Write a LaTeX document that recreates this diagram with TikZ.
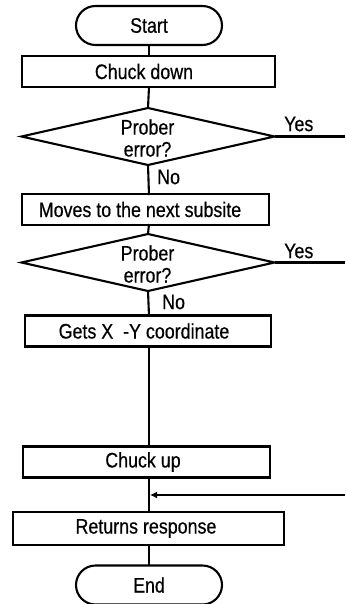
\documentclass[tikz,border=0pt]{standalone}
\usepackage{fontspec}
\setmainfont{Liberation Sans}[FakeStretch=0.85,FakeBold=0.5]
\usetikzlibrary{shapes.geometric,shapes.misc,arrows.meta}
\begin{document}
\begin{tikzpicture}[x=1pt,y=-1pt,
  every node/.style={font=\fontsize{21}{22}\selectfont},
  flow/.style={line width=2.1pt},
  term/.style={draw,line width=2.1pt,rounded rectangle,minimum width=146pt,minimum height=39pt,inner sep=0pt,outer sep=0pt},
  proc/.style={draw,line width=2.1pt,rectangle,minimum height=31pt,inner sep=0pt,outer sep=0pt},
  decision/.style={draw,line width=2.1pt,diamond,minimum width=253pt,minimum height=57pt,inner sep=0pt,outer sep=0pt},
  lbl/.style={inner sep=0pt,anchor=west}]
\useasboundingbox (0,0) rectangle (345,604);

% terminators
\node[term] (start) at (149,25.5) {Start};
\node[term] (end) at (149,585) {End};

% process boxes
\node[proc,minimum width=253pt] (chdown) at (148.5,71.5) {};
\node at (144,71.5) {Chuck down};
\node[proc,minimum width=247pt] (moves) at (145.5,209.5) {};
\node at (140,209.5) {Moves to the next subsite};
\node[proc,minimum width=246pt] (gets) at (148,331) {};
\node at (144,331) {Gets X\ \ -Y coordinate};
\node[proc,minimum width=247pt] (chup) at (146.5,462) {};
\node at (143,462) {Chuck up};
\node[proc,minimum width=271pt,minimum height=33pt] (ret) at (148.5,528.5) {};
\node at (146,528.5) {Returns response};

% decisions
\node[decision] (d1) at (148,136.5) {};
\node[align=center,inner sep=0pt] (d1t) at (147.5,138) {Prober\\error?};
\node[decision] (d2) at (148,262.5) {};
\node[align=center,inner sep=0pt] (d2t) at (147.5,264) {Prober\\error?};

% branch ends and the merge point
\coordinate (y1) at (345,136.5);
\coordinate (y2) at (345,262.5);
\coordinate (rin) at (345,495);
\coordinate (merge) at (149,495);

% main spine
\draw[flow] (start.south) -- (start.south |- chdown.north);
\draw[flow] (149,87) -- (d1.north);
\draw[flow] (d1.south) -- (149,195);
\draw[flow] (149,224) -- (d2.north);
\draw[flow] (d2.south) -- (149,316);
\draw[flow] (149,346) -- (149,447);
\draw[flow] (149,477) -- (149,512);
\draw[flow] (149,545) -- (end.north);

% yes branches and return path
\draw[flow] (d1.east) -- (y1);
\draw[flow] (d2.east) -- (y2);
\draw[line width=2.1pt,-{Latex[length=7pt,width=7pt]}] (rin) -- ([xshift=1pt]merge);

% labels
\node[lbl] (yes1) at (284,124) {Yes};
\node[lbl] (yes2) at (284,251) {Yes};
\node[lbl] (no1) at (157,177) {No};
\node[lbl] (no2) at (162,302) {No};
\end{tikzpicture}
\end{document}
